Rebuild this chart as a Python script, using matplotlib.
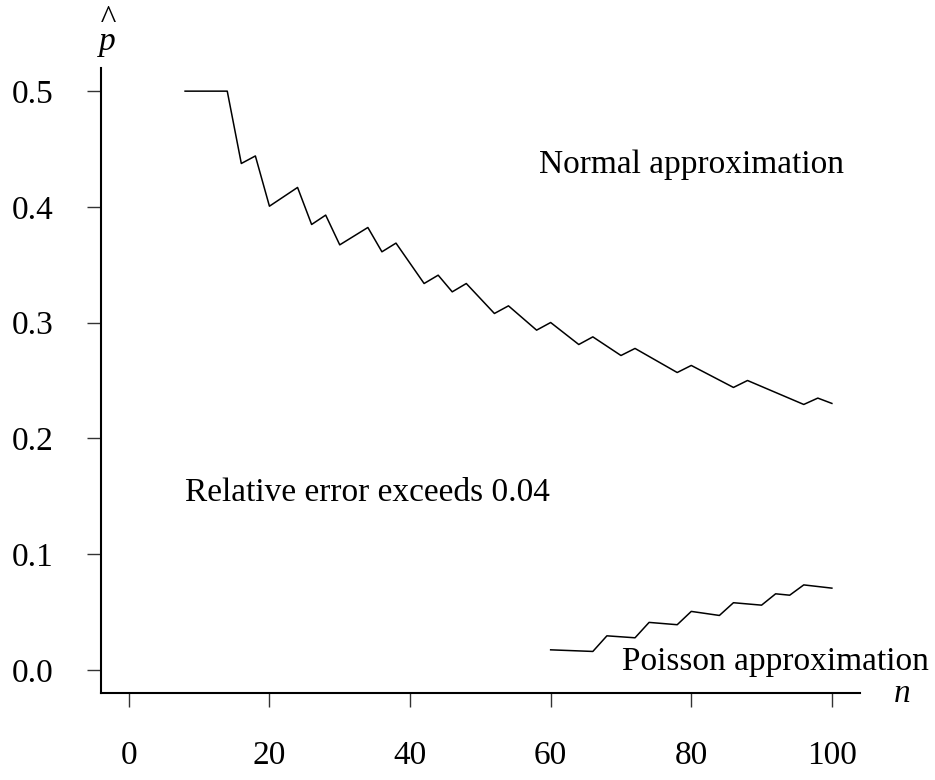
import matplotlib
matplotlib.use("Agg")
import matplotlib.pyplot as plt

# Normal approximation boundary (vertices)
normal_n = [8, 14, 16, 18, 20, 24, 26, 28, 30, 34, 36, 38, 42, 44, 46, 48,
            52, 54, 58, 60, 64, 66, 70, 72, 78, 80, 86, 88, 96, 98, 100]
normal_p = [0.500, 0.500, 0.4375, 0.444, 0.4006, 0.4168, 0.3848, 0.3929,
            0.3672, 0.3822, 0.3612, 0.3687, 0.3338, 0.341, 0.3266, 0.3338,
            0.3079, 0.3145, 0.2935, 0.3001, 0.2811, 0.2877, 0.2716, 0.2777,
            0.2569, 0.263, 0.244, 0.250, 0.2293, 0.2348, 0.2302]

# Poisson approximation boundary
poisson_n = [60, 66, 68, 72, 74, 78, 80, 84, 86, 90, 92, 94, 96, 100]
poisson_p = [0.0173, 0.0159, 0.0294, 0.0277, 0.041, 0.039, 0.0505, 0.047,
             0.058, 0.0559, 0.0657, 0.0645, 0.0734, 0.0706]

x_ticks = [0, 20, 40, 60, 80, 100]
y_ticks = [0.0, 0.1, 0.2, 0.3, 0.4, 0.5]
y_tick_labels = ["0.0", "0.1", "0.2", "0.3", "0.4", "0.5"]

plt.rcParams['font.family'] = ['Liberation Serif', 'DejaVu Serif']
plt.rcParams['mathtext.fontset'] = 'custom'
plt.rcParams['mathtext.rm'] = 'Liberation Serif'
plt.rcParams['mathtext.it'] = 'Liberation Serif:italic'

W, H = 935, 780
fig = plt.figure(figsize=(W / 100, H / 100), dpi=100)
ax = fig.add_axes([100.7 / W, (H - 693) / H, (860 - 100.7) / W, (693 - 68) / H])

ax.plot(normal_n, normal_p, color='black', lw=1.1)
ax.plot(poisson_n, poisson_p, color='black', lw=1.1)

ax.set_xlim(-4.0, 104.0)
ax.set_ylim(-0.02, 0.52)

for s in ['top', 'right']:
    ax.spines[s].set_visible(False)
for s in ['left', 'bottom']:
    ax.spines[s].set_linewidth(1.5)

fs = 24
ax.set_xticks(x_ticks)
ax.set_xticklabels([str(v) for v in x_ticks])
ax.set_yticks(y_ticks)
ax.set_yticklabels(y_tick_labels)
ax.tick_params(axis='both', direction='out', length=10, width=1.0,
               labelsize=fs, pad=24, color='#333333')

ax.text(80, 0.436, "Normal approximation", fontsize=fs, ha='center', va='center')
ax.text(34, 0.153, "Relative error exceeds 0.04", fontsize=fs, ha='center', va='center')
ax.text(92, 0.007, "Poisson approximation", fontsize=fs, ha='center', va='center')

fig.text(107 / W, 1 - 31 / H, "^\np", fontsize=fs, fontstyle='italic',
         ha='center', va='center', multialignment='center', linespacing=0.62)
fig.text(902 / W, 1 - 694 / H, r"$n$", fontsize=fs, ha='center', va='center')

fig.savefig("out.png", dpi=100)
